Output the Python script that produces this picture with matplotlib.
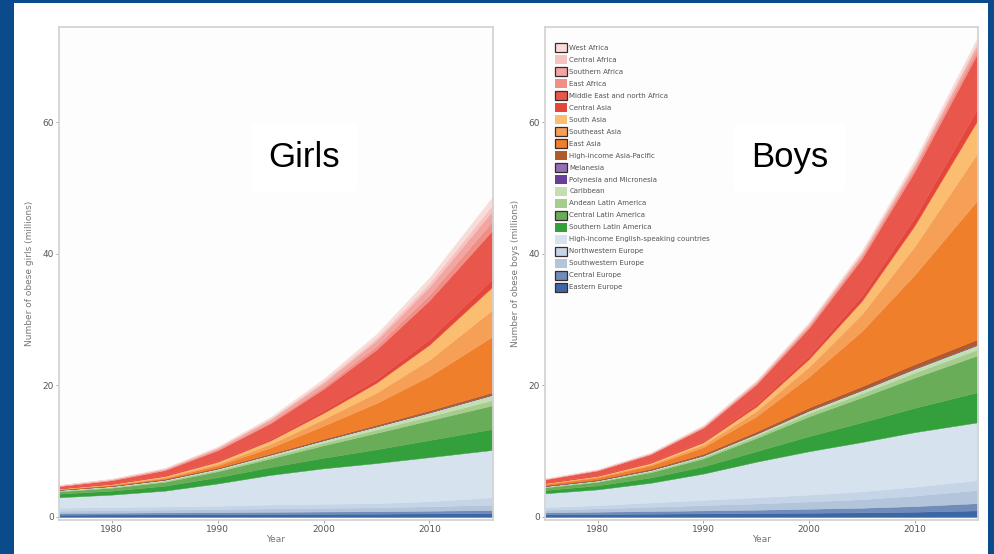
import matplotlib
matplotlib.use("Agg")
import matplotlib.pyplot as plt
from matplotlib.patches import Patch, Rectangle
import numpy as np

years = [1975, 1980, 1985, 1990, 1995, 2000, 2005, 2010, 2016]

# stacking order: bottom -> top
regions = [
    "Eastern Europe", "Central Europe", "Southwestern Europe", "Northwestern Europe",
    "High-income English-speaking countries", "Southern Latin America",
    "Central Latin America", "Andean Latin America", "Caribbean",
    "Polynesia and Micronesia", "Melanesia", "High-income Asia-Pacific",
    "East Asia", "Southeast Asia", "South Asia", "Central Asia",
    "Middle East and north Africa", "East Africa", "Southern Africa",
    "Central Africa", "West Africa",
]

colors = [
    "#3d67a4", "#6f8cba", "#b2c5da", "#c5d5e7",
    "#d6e2ed", "#34a03b",
    "#6aad58", "#a4cd8e", "#c3dfb1",
    "#6a3d9a", "#9370b5", "#b05a2c",
    "#f07f2b", "#f6a057", "#fbbd70", "#e5463c",
    "#e9574c", "#f08f88", "#f3a6a1",
    "#f6c4c0", "#f8dcd8",
]

key_border = [True, True, False, True, False, False, True, False, False,
              False, True, False, True, True, False, False, True, False,
              True, False, True]

# obese girls (millions), one row per region, columns = years
girls = [
    [0.35, 0.38, 0.40, 0.42, 0.45, 0.48, 0.50, 0.55, 0.60],
    [0.25, 0.27, 0.29, 0.31, 0.33, 0.35, 0.37, 0.40, 0.45],
    [0.35, 0.38, 0.42, 0.46, 0.52, 0.55, 0.58, 0.68, 0.80],
    [0.45, 0.47, 0.49, 0.51, 0.60, 0.62, 0.65, 0.77, 1.15],
    [1.60, 1.90, 2.40, 3.40, 4.50, 5.40, 6.10, 6.70, 7.20],
    [0.55, 0.60, 0.75, 0.95, 1.20, 1.60, 2.10, 2.60, 3.20],
    [0.35, 0.45, 0.60, 0.90, 1.30, 1.90, 2.50, 3.00, 3.60],
    [0.10, 0.12, 0.15, 0.20, 0.30, 0.40, 0.50, 0.60, 0.80],
    [0.12, 0.14, 0.18, 0.22, 0.30, 0.38, 0.48, 0.60, 0.80],
    [0.01, 0.01, 0.01, 0.02, 0.02, 0.03, 0.03, 0.04, 0.05],
    [0.01, 0.01, 0.01, 0.01, 0.01, 0.02, 0.02, 0.03, 0.04],
    [0.05, 0.06, 0.08, 0.10, 0.13, 0.16, 0.20, 0.25, 0.30],
    [0.05, 0.08, 0.15, 0.35, 0.90, 2.00, 3.30, 5.20, 8.50],
    [0.05, 0.08, 0.15, 0.25, 0.55, 1.00, 1.60, 2.50, 4.10],
    [0.05, 0.08, 0.15, 0.30, 0.55, 0.95, 1.50, 2.30, 3.50],
    [0.05, 0.06, 0.08, 0.15, 0.22, 0.35, 0.55, 0.85, 1.20],
    [0.30, 0.50, 0.80, 1.60, 2.40, 3.30, 4.50, 5.90, 7.40],
    [0.03, 0.04, 0.06, 0.12, 0.20, 0.35, 0.55, 0.85, 1.40],
    [0.10, 0.12, 0.16, 0.25, 0.40, 0.60, 0.85, 1.20, 1.60],
    [0.02, 0.03, 0.05, 0.08, 0.15, 0.25, 0.40, 0.60, 0.90],
    [0.03, 0.05, 0.07, 0.12, 0.20, 0.35, 0.55, 0.80, 1.20],
]

# obese boys (millions)
boys = [
    [0.40, 0.45, 0.50, 0.55, 0.60, 0.65, 0.70, 0.80, 1.00],
    [0.30, 0.35, 0.40, 0.45, 0.50, 0.60, 0.70, 0.85, 1.10],
    [0.40, 0.50, 0.65, 0.80, 0.95, 1.10, 1.30, 1.60, 2.00],
    [0.40, 0.50, 0.65, 0.80, 0.95, 1.05, 1.20, 1.35, 1.50],
    [2.10, 2.40, 3.00, 4.00, 5.40, 6.60, 7.50, 8.30, 8.80],
    [0.50, 0.60, 0.80, 1.10, 1.60, 2.30, 3.00, 3.70, 4.60],
    [0.40, 0.55, 0.80, 1.20, 2.00, 3.00, 3.80, 4.60, 5.60],
    [0.10, 0.12, 0.18, 0.25, 0.35, 0.50, 0.60, 0.75, 0.90],
    [0.10, 0.12, 0.17, 0.22, 0.30, 0.40, 0.50, 0.60, 0.70],
    [0.01, 0.01, 0.02, 0.02, 0.03, 0.03, 0.04, 0.05, 0.06],
    [0.01, 0.01, 0.01, 0.01, 0.02, 0.02, 0.03, 0.04, 0.05],
    [0.10, 0.12, 0.16, 0.22, 0.30, 0.40, 0.50, 0.60, 0.75],
    [0.20, 0.30, 0.50, 1.00, 2.30, 4.70, 8.40, 13.6, 21.2],
    [0.08, 0.12, 0.20, 0.40, 0.80, 1.50, 2.60, 4.30, 7.20],
    [0.06, 0.10, 0.18, 0.35, 0.70, 1.20, 2.00, 3.20, 5.00],
    [0.06, 0.08, 0.12, 0.20, 0.35, 0.50, 0.80, 1.20, 1.80],
    [0.50, 0.75, 1.20, 2.00, 3.00, 4.20, 5.60, 7.00, 8.40],
    [0.03, 0.04, 0.06, 0.10, 0.15, 0.25, 0.35, 0.50, 0.70],
    [0.06, 0.08, 0.10, 0.15, 0.22, 0.30, 0.40, 0.50, 0.70],
    [0.02, 0.03, 0.04, 0.07, 0.10, 0.15, 0.20, 0.30, 0.40],
    [0.03, 0.04, 0.06, 0.10, 0.15, 0.20, 0.30, 0.45, 0.60],
]

panel_titles = ["Girls", "Boys"]
y_labels = ["Number of obese girls (millions)", "Number of obese boys (millions)"]
x_ticks = [1980, 1990, 2000, 2010]
y_ticks = [0, 20, 40, 60]

plt.rcParams["font.family"] = ["DejaVu Sans"]

W, H = 995, 554
fig = plt.figure(figsize=(W / 100, H / 100), dpi=100)
fig.patch.set_facecolor("#0b4a8b")
fig.add_artist(Rectangle((14 / W, 0), (988 - 14) / W, (H - 3) / H,
                         transform=fig.transFigure, facecolor="white",
                         edgecolor="none", zorder=0))

def px_axes(x0, x1, y0, y1):
    return [x0 / W, 1 - y1 / H, (x1 - x0) / W, (y1 - y0) / H]

axes = [fig.add_axes(px_axes(59, 493, 27, 520)),
        fig.add_axes(px_axes(545, 978, 27, 520))]

for ax, data, title, ylab in zip(axes, [girls, boys], panel_titles, y_labels):
    ax.set_facecolor("#fdfdfd")
    ax.stackplot(years, np.array(data), colors=colors, linewidth=0.3,
                 edgecolor="face")
    ax.set_xlim(1975, 2016)
    ax.set_ylim(-0.46, 74.5)
    ax.set_xticks(x_ticks)
    ax.set_yticks(y_ticks)
    ax.tick_params(axis="both", length=2, width=0.6, color="#999999",
                   labelsize=6.5, labelcolor="#555555", pad=1.5)
    for s in ax.spines.values():
        s.set_color("#d4d4d4")
        s.set_linewidth(1.3)
    ax.set_ylabel(ylab, fontsize=6.5, color="#777777", labelpad=6)
    ax.set_xlabel("Year", fontsize=6.5, color="#777777", labelpad=1)
    ax.text(0.565, 0.735, title, transform=ax.transAxes, fontsize=25,
            family=["Liberation Sans", "DejaVu Sans"], color="black",
            ha="center", va="center",
            bbox=dict(facecolor="white", edgecolor="none", pad=12))

# legend on the boys panel (top entry = top of stack)
handles = []
for c, b in zip(colors[::-1], key_border[::-1]):
    handles.append(Patch(facecolor=c, edgecolor="#3a2a2a" if b else c,
                         linewidth=0.9 if b else 0.0))
leg = axes[1].legend(handles, regions[::-1], loc="upper left",
                     bbox_to_anchor=(10 / 433, (520 - 43) / 493),
                     frameon=False, fontsize=5, borderpad=0, borderaxespad=0,
                     handlelength=1.7, handleheight=1.6, labelspacing=0.44,
                     handletextpad=0.35)
for t in leg.get_texts():
    t.set_color("#555555")

fig.savefig("out.png", dpi=100, facecolor=fig.get_facecolor())
